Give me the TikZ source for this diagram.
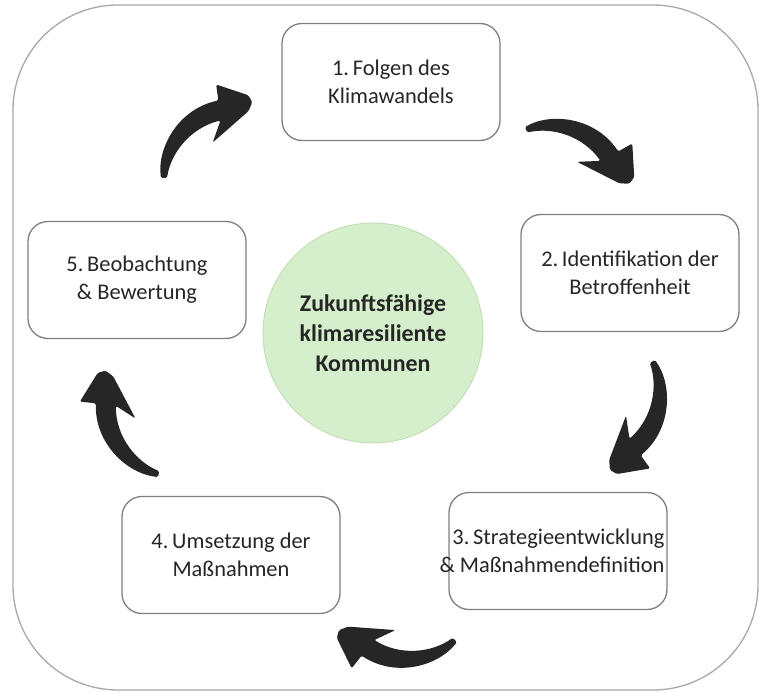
\documentclass[tikz,border=0pt]{standalone}
\usepackage{fontspec}
\setmainfont{Carlito}
\definecolor{boxgray}{HTML}{7F7F7F}
\definecolor{outergray}{HTML}{A8A8A8}
\definecolor{txt}{HTML}{262626}
\definecolor{arrowc}{HTML}{262626}
\definecolor{greenfill}{HTML}{D5EECB}
\definecolor{greenline}{HTML}{C3DFB6}
\begin{document}
\begin{tikzpicture}[x=1bp,y=1bp,
  boxtext/.style={inner sep=0pt, text=txt, font=\fontsize{22.5}{28}\selectfont, align=center},
  box/.style={boxtext, draw=boxgray, line width=1.3bp, rounded corners=20bp, fill=white,
    minimum width=218bp, minimum height=117bp},
  hub/.style={circle, draw=greenline, line width=1bp, fill=greenfill,
    minimum size=220bp, inner sep=0pt, text=txt,
    font=\bfseries\fontsize{24}{30}\selectfont, align=center},
  curvy/.pic={\fill[arrowc, rounded corners=1.5bp]
    (0,0) .. controls (-4,30) and (18,69) .. (58,77)
    -- (56,93) -- (88,82) -- (92,75) -- (88,66) -- (52,35)
    -- (60,57) .. controls (30,50) and (10,25) .. (6,0) -- cycle;}
]
\useasboundingbox (0,0) rectangle (760,-692);
\draw[outergray, line width=1.3bp, rounded corners=105bp] (13,-5) rectangle (758,-690);

\node[hub] (hub) at (373,-333) {Zukunftsfähige\\klimaresiliente\\Kommunen};

\node[box] (b1) at (391,-82) {1.\,Folgen des\\Klimawandels};
\node[box] (b2) at (630,-273) {2.\,Identifikation der\\Betroffenheit};
\node[box] (b3) at (558,-551) {};
\node[boxtext, align=right, anchor=east] (b3t) at ([xshift=-3bp]b3.east) {3.\,Strategieentwicklung\\\& Maßnahmendefinition};
\node[box] (b4) at (231,-555) {4.\,Umsetzung der\\Maßnahmen};
\node[box] (b5) at (137,-280) {5.\,Beobachtung\\\& Bewertung};

\coordinate (t51) at (161,-178);
\coordinate (t12) at (525,-127);
\coordinate (t23) at (655,-360);
\coordinate (t34) at (457,-642);
\coordinate (t45) at (158,-477);

\pic[rotate=0.5] at (t51) {curvy};
\pic[rotate=-67.7] at (t12) {curvy};
\pic[rotate=-151.5] at (t23) {curvy};
\pic[rotate=135.1] at (t34) {curvy};
\pic[rotate=77.1] at (t45) {curvy};
\end{tikzpicture}
\end{document}
